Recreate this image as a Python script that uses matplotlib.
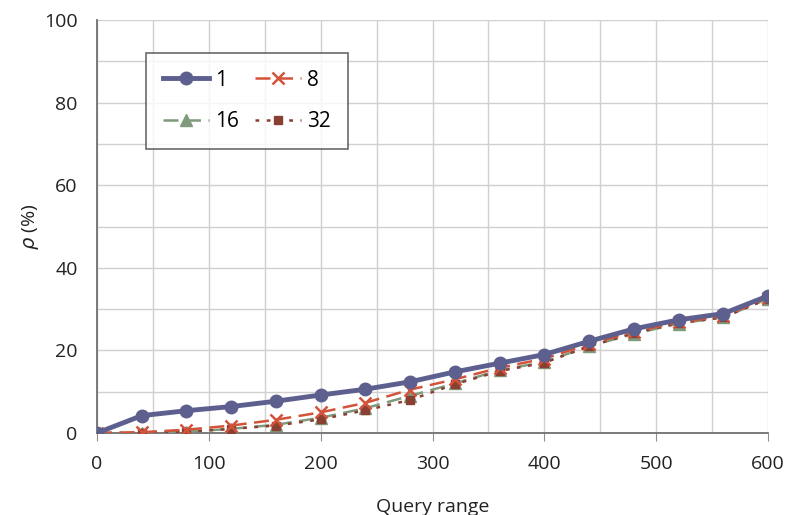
import matplotlib
matplotlib.use("Agg")
import matplotlib.pyplot as plt
from matplotlib.ticker import MultipleLocator

x = [0, 40, 80, 120, 160, 200, 240, 280, 320, 360, 400, 440, 480, 520, 560, 600]
s1 = [0, 4.2, 5.4, 6.4, 7.7, 9.2, 10.6, 12.4, 14.8, 16.9, 19.0, 22.2, 25.2, 27.4, 28.9, 33.2]
s8 = [0, 0.2, 0.8, 1.8, 3.2, 5.0, 7.3, 10.5, 13.0, 15.8, 18.0, 21.5, 24.5, 26.8, 28.3, 32.8]
s16 = [0, 0, 0.3, 1.0, 2.0, 3.7, 6.0, 9.0, 12.0, 15.2, 17.2, 21.0, 24.0, 26.5, 28.0, 32.5]
s32 = [0, 0, 0.3, 1.0, 1.8, 3.3, 5.5, 8.0, 11.8, 15.0, 17.0, 21.0, 24.2, 26.6, 28.0, 32.5]
labels = ["1", "8", "16", "32"]

plt.rcParams['font.family'] = ['Open Sans', 'DejaVu Sans']

fig = plt.figure(figsize=(7.86, 5.15), dpi=100)
ax = fig.add_axes([97/786, 1-433/515, (768-97)/786, (433-20)/515])

h1, = ax.plot(x, s1, color='#5d5f8e', lw=3.5, marker='o', ms=9, label=labels[0], zorder=5)
h8, = ax.plot(x, s8, color='#d2533a', lw=1.8, ls=(0, (6, 3)), marker='x', ms=9, mew=1.8, label=labels[1], zorder=4)
h16, = ax.plot(x, s16, color='#7f9a7c', lw=1.8, ls=(0, (6, 3)), marker='^', ms=8, label=labels[2], zorder=3)
h32, = ax.plot(x, s32, color='#8a3f33', lw=1.8, ls=(0, (1.5, 3)), marker='s', ms=6, label=labels[3], zorder=3)

ax.set_xlim(0, 600)
ax.set_ylim(0, 100)
ax.xaxis.set_major_locator(MultipleLocator(100))
ax.xaxis.set_minor_locator(MultipleLocator(50))
ax.yaxis.set_major_locator(MultipleLocator(20))
ax.yaxis.set_minor_locator(MultipleLocator(10))
ax.grid(which='both', color='#d0d0d0', lw=1)
ax.set_axisbelow(True)
for s in ['top', 'right']:
    ax.spines[s].set_visible(False)
for s in ['left', 'bottom']:
    ax.spines[s].set_color('#707070')
    ax.spines[s].set_linewidth(1.3)
ax.tick_params(which='major', axis='x', length=6, color='#909090', labelsize=14, pad=10)
ax.tick_params(which='major', axis='y', length=0, labelsize=14, pad=14)
ax.tick_params(which='minor', length=0)
for lab in ax.get_xticklabels() + ax.get_yticklabels():
    lab.set_color('#222222')

ax.set_xlabel("Query range", fontsize=14, labelpad=18, color='#222222')
ax.set_ylabel(r"$\rho$ (%)", fontsize=14, labelpad=2, color='#222222')

leg = ax.legend([h1, h16, h8, h32], [labels[0], labels[2], labels[1], labels[3]],
                ncol=2, loc='upper left', bbox_to_anchor=(49/671, 1-33/413),
                fontsize=15, frameon=True, fancybox=False, edgecolor='#444444',
                handlelength=2.2, columnspacing=0.8, borderpad=0.8, labelspacing=1.0,
                handletextpad=0.3, borderaxespad=0)
leg.get_frame().set_linewidth(1.2)

fig.savefig("out.png", dpi=100)
